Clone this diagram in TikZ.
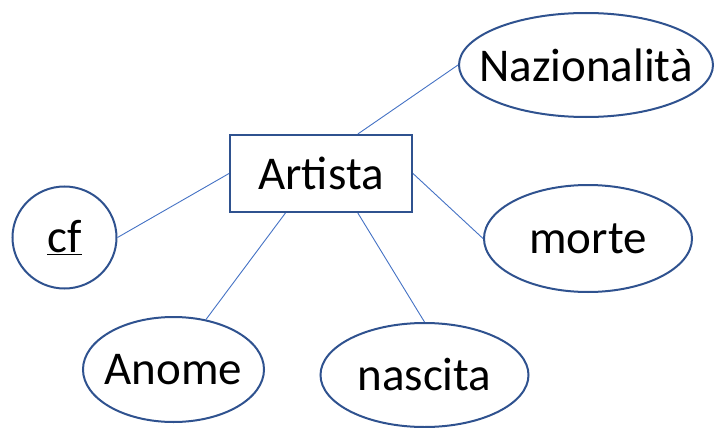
\documentclass[tikz,border=0pt]{standalone}
\usepackage{fontspec}
\setmainfont{Carlito}
\usetikzlibrary{shapes.geometric}
\definecolor{outl}{HTML}{2F528F}
\definecolor{conn}{HTML}{4472C4}
\tikzset{
  attr/.style={ellipse, draw=outl, line width=2pt, inner sep=0pt, font=\fontsize{47}{56}\selectfont},
  ent/.style={rectangle, draw=outl, line width=2pt, inner sep=0pt, font=\fontsize{47}{56}\selectfont},
  link/.style={draw=conn, line width=0.9pt}
}
\begin{document}
\begin{tikzpicture}[x=1pt,y=-1pt]
\useasboundingbox (0,0) rectangle (715,428);
\node[ent, minimum width=182pt, minimum height=77pt] (artista) at (321,173.5) {Artista};
\node[attr, minimum width=254pt, minimum height=104pt] (naz) at (586,65) {\makebox[0pt]{Nazionalità}};
\node[attr, minimum width=104pt, minimum height=102pt] (cf) at (64.5,237.5) {\makebox[0pt]{\underline{cf}}};
\node[attr, minimum width=208pt, minimum height=107pt] (morte) at (588,238.5) {\makebox[0pt]{morte}};
\node[attr, minimum width=181pt, minimum height=105pt] (anome) at (173.5,369.5) {\makebox[0pt]{Anome}};
\node[attr, minimum width=208pt, minimum height=104pt] (nascita) at (424.5,375) {\makebox[0pt]{nascita}};
\draw[link] (artista.47) -- (naz.west);
\draw[link] (artista.west) -- (cf.east);
\draw[link] (artista.east) -- (morte.west);
\draw[link] (artista.228) -- (anome.57);
\draw[link] (artista.313) -- (nascita.north);
\end{tikzpicture}
\end{document}
